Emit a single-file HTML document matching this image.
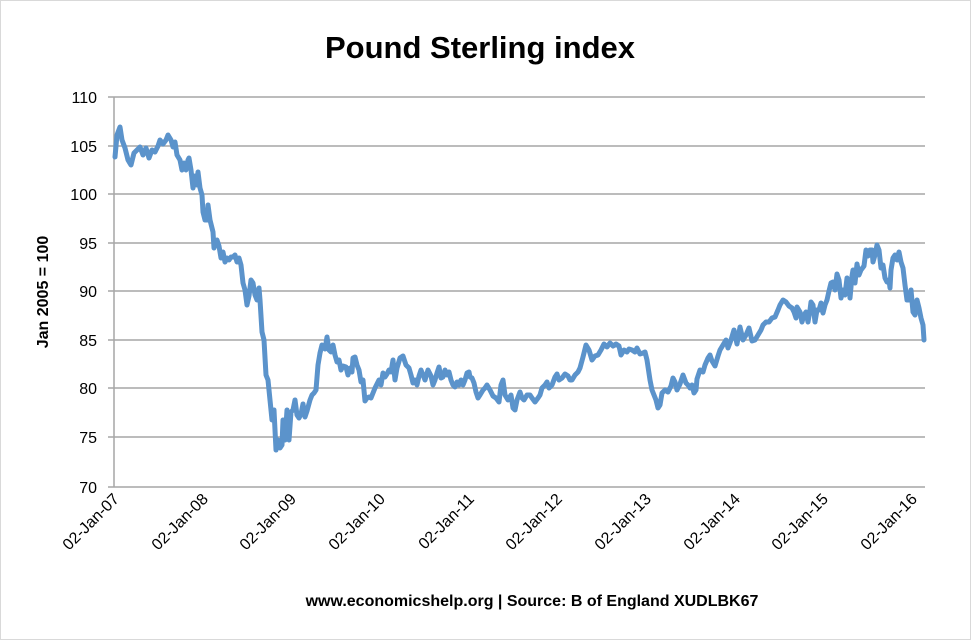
<!DOCTYPE html>
<html><head><meta charset="utf-8"><style>body{margin:0;background:#fff}svg{display:block}</style></head><body>
<svg width="971" height="640" viewBox="0 0 971 640" xmlns="http://www.w3.org/2000/svg" font-family="Liberation Sans, sans-serif">
<rect width="971" height="640" fill="#fff"/>
<rect x="0.5" y="0.5" width="970" height="639" fill="none" stroke="#d9d9d9"/>
<text x="480" y="58" font-size="31" font-weight="bold" text-anchor="middle">Pound Sterling index</text>
<g stroke="#a6a6a6" stroke-width="1.5">
<line x1="108" y1="97" x2="925" y2="97"/>
<line x1="108" y1="146" x2="925" y2="146"/>
<line x1="108" y1="194" x2="925" y2="194"/>
<line x1="108" y1="243" x2="925" y2="243"/>
<line x1="108" y1="291" x2="925" y2="291"/>
<line x1="108" y1="340" x2="925" y2="340"/>
<line x1="108" y1="388" x2="925" y2="388"/>
<line x1="108" y1="437" x2="925" y2="437"/>
<line x1="108" y1="487" x2="925" y2="487"/>
<line x1="114" y1="97" x2="114" y2="487"/>
</g>
<g font-size="16" text-anchor="end">
<text x="97" y="103">110</text><text x="97" y="152">105</text><text x="97" y="200">100</text>
<text x="97" y="249">95</text><text x="97" y="297">90</text><text x="97" y="346">85</text>
<text x="97" y="394">80</text><text x="97" y="443">75</text><text x="97" y="493">70</text>
</g>
<text transform="translate(48,292) rotate(-90)" font-size="16" font-weight="bold" text-anchor="middle">Jan 2005 = 100</text>
<g font-size="16" text-anchor="end">
<text transform="translate(120,500) rotate(-45)">02-Jan-07</text>
<text transform="translate(209,500) rotate(-45)">02-Jan-08</text>
<text transform="translate(297,500) rotate(-45)">02-Jan-09</text>
<text transform="translate(386,500) rotate(-45)">02-Jan-10</text>
<text transform="translate(475,500) rotate(-45)">02-Jan-11</text>
<text transform="translate(563,500) rotate(-45)">02-Jan-12</text>
<text transform="translate(652,500) rotate(-45)">02-Jan-13</text>
<text transform="translate(741,500) rotate(-45)">02-Jan-14</text>
<text transform="translate(829,500) rotate(-45)">02-Jan-15</text>
<text transform="translate(918,500) rotate(-45)">02-Jan-16</text>
</g>
<text x="532" y="606" font-size="16" font-weight="bold" text-anchor="middle">www.economicshelp.org | Source: B of England XUDLBK67</text>
<polyline fill="none" stroke="#5B93CB" stroke-width="5" stroke-linejoin="round" stroke-linecap="round" points="115,157 117,135 120,127 122,140 125,148 128,160 131,165 134,153 137,150 140,147 143,155 146,148 149,158 152,150 155,152 158,146 160,140 163,144 166,140 168,135 171,140 173,147 175,142 177,155 180,160 182,170 184,163 186,170 188,160 189,158 191,170 193,188 195,176 197,185 198,172 200,188 202,195 203,212 205,220 207,220 208,205 210,220 212,228 213,232 214,248 217,240 219,246 221,258 223,252 225,262 227,258 229,260 231,257 233,257 235,255 237,262 239,258 241,265 243,283 245,290 247,305 249,296 251,280 253,283 255,295 257,300 259,288 260,300 262,332 264,340 266,375 268,380 270,400 272,420 274,410 276,450 278,440 280,448 282,445 283,420 285,440 287,410 289,440 291,412 293,410 295,400 297,415 299,418 301,414 303,404 305,417 307,411 310,400 312,395 314,393 316,390 318,365 320,353 322,345 325,349 327,337 329,350 331,352 333,345 335,355 337,362 339,360 341,370 343,366 346,367 348,375 350,368 352,372 353,358 355,357 357,365 359,370 361,382 363,380 365,401 367,398 369,397 371,398 373,393 375,388 377,384 379,380 381,385 383,373 385,377 387,374 389,370 391,372 393,360 395,380 397,368 400,358 403,356 406,365 409,368 411,375 413,383 415,380 417,385 419,376 421,370 423,375 425,380 428,370 431,376 433,385 435,380 437,373 439,367 441,378 443,377 445,370 447,375 449,372 451,380 453,385 455,387 457,382 459,385 461,380 463,385 465,380 467,373 469,372 470,377 472,378 474,383 476,392 478,398 480,395 483,390 485,388 487,385 490,390 493,396 496,398 499,402 501,385 503,380 505,395 508,400 511,395 513,408 515,410 517,400 520,392 522,398 524,400 527,395 530,395 532,398 535,402 538,398 540,395 542,388 545,385 547,382 549,388 552,385 555,377 557,374 559,380 562,378 565,374 568,376 570,380 572,380 575,375 578,372 580,368 583,357 586,345 589,350 592,360 595,356 598,355 601,350 604,344 607,347 610,343 613,346 616,344 619,346 621,355 624,350 627,352 629,349 632,350 635,352 637,348 640,354 643,353 645,352 647,360 650,380 652,390 654,395 656,400 658,408 660,405 662,393 665,390 668,392 671,386 673,378 675,382 677,390 680,384 683,375 686,383 688,385 690,388 692,385 694,393 696,390 697,379 700,370 703,372 705,365 708,358 710,355 712,361 715,366 718,356 720,350 723,345 726,340 728,348 731,340 734,330 737,344 740,327 743,340 746,335 749,328 752,341 755,340 758,335 761,330 763,325 766,322 769,322 772,318 775,317 778,310 780,305 783,300 786,302 789,306 792,308 794,312 796,318 797,307 800,312 802,322 804,315 806,312 808,322 810,310 811,302 813,305 815,322 817,310 819,310 821,303 823,313 825,305 827,300 829,291 831,283 833,282 835,290 837,274 839,280 841,298 843,290 845,295 847,278 849,285 850,298 852,276 853,270 855,283 857,264 859,275 861,270 864,266 866,250 868,256 870,250 872,250 873,262 875,255 877,245 879,250 881,268 883,265 885,278 887,282 889,280 890,288 891,270 893,258 895,255 897,260 899,252 901,262 903,268 905,285 907,300 909,300 911,290 913,312 915,315 917,300 919,308 921,318 923,325 924,340"/>
</svg>
</body></html>
